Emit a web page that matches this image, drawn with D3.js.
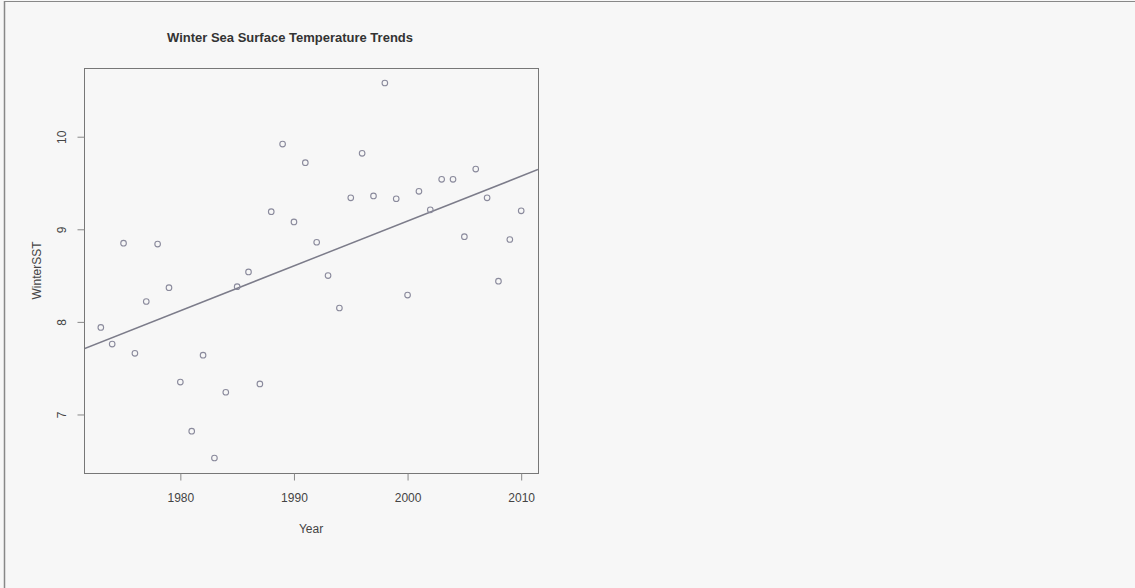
<!DOCTYPE html>
<html>
<head>
<meta charset="utf-8">
<script src="https://cdn.jsdelivr.net/npm/d3@7"></script>
<style>
  body { margin: 0; background: #f7f7f7; }
  svg { display: block; font-family: "Liberation Sans", Arial, sans-serif; }
</style>
</head>
<body>
<div id="chart"></div>
<script>
// winter SST per year
var years = [1973, 1974, 1975, 1976, 1977, 1978, 1979, 1980, 1981, 1982,
             1983, 1984, 1985, 1986, 1987, 1988, 1989, 1990, 1991, 1992,
             1993, 1994, 1995, 1996, 1997, 1998, 1999, 2000, 2001, 2002,
             2003, 2004, 2005, 2006, 2007, 2008, 2009, 2010];
var winterSST = [7.94, 7.76, 8.85, 7.66, 8.22, 8.84, 8.37, 7.35, 6.82, 7.64,
                 6.53, 7.24, 8.38, 8.54, 7.33, 9.19, 9.92, 9.08, 9.72, 8.86,
                 8.50, 8.15, 9.34, 9.82, 9.36, 10.58, 9.33, 8.29, 9.41, 9.21,
                 9.54, 9.54, 8.92, 9.65, 9.34, 8.44, 8.89, 9.20];
var xTicks = [1980, 1990, 2000, 2010];
var yTicks = [7, 8, 9, 10];

var W = 1135, H = 588;
var box = {left: 84, right: 538, top: 68, bottom: 473};

// R style axis: data range padded by 4% each side
function pad(ext) {
  var d = (ext[1] - ext[0]) * 0.04;
  return [ext[0] - d, ext[1] + d];
}

var x = d3.scaleLinear().domain(pad(d3.extent(years))).range([box.left, box.right]);
var y = d3.scaleLinear().domain(pad(d3.extent(winterSST))).range([box.bottom, box.top]);

var data = years.map(function(yr, i) { return {year: yr, sst: winterSST[i]}; });

// least squares fit (abline(lm(...)))
var mx = d3.mean(years), my = d3.mean(winterSST);
var sxy = d3.sum(data, function(d) { return (d.year - mx) * (d.sst - my); });
var sxx = d3.sum(data, function(d) { return (d.year - mx) * (d.year - mx); });
var slope = sxy / sxx, icept = my - slope * mx;

var svg = d3.select("#chart").append("svg")
  .attr("width", W)
  .attr("height", H);

svg.append("rect").attr("width", W).attr("height", H).attr("fill", "#f7f7f7");

// outer frame (top + left only visible)
svg.append("line").attr("x1", 4).attr("x2", W).attr("y1", 1.5).attr("y2", 1.5)
  .attr("stroke", "#888").attr("stroke-width", 1);
svg.append("line").attr("x1", 4.5).attr("x2", 4.5).attr("y1", 1).attr("y2", H)
  .attr("stroke", "#888").attr("stroke-width", 1.5);

svg.append("clipPath").attr("id", "clip")
  .append("rect")
  .attr("x", box.left).attr("y", box.top)
  .attr("width", box.right - box.left).attr("height", box.bottom - box.top);

// regression line
var d0 = x.domain()[0], d1 = x.domain()[1];
svg.append("line")
  .attr("clip-path", "url(#clip)")
  .attr("x1", x(d0)).attr("y1", y(icept + slope * d0))
  .attr("x2", x(d1)).attr("y2", y(icept + slope * d1))
  .attr("stroke", "#7c7c8a")
  .attr("stroke-width", 1.5);

// points
svg.selectAll(".pt")
  .data(data)
  .enter().append("circle")
  .attr("class", "pt")
  .attr("cx", function(d) { return x(d.year); })
  .attr("cy", function(d) { return y(d.sst); })
  .attr("r", 2.8)
  .attr("fill", "none")
  .attr("stroke", "#8a8a9c")
  .attr("stroke-width", 1.1);

// plot box
svg.append("rect")
  .attr("x", box.left + 0.5).attr("y", box.top + 0.5)
  .attr("width", box.right - box.left).attr("height", box.bottom - box.top)
  .attr("fill", "none").attr("stroke", "#777").attr("stroke-width", 1);

// x axis
var xAxis = svg.append("g")
  .attr("transform", "translate(0," + (box.bottom + 0.5) + ")")
  .call(d3.axisBottom(x).tickValues(xTicks).tickSize(7).tickPadding(13).tickFormat(d3.format("d")));
xAxis.select(".domain").remove();
xAxis.selectAll(".tick line").attr("stroke", "#888");
xAxis.selectAll("text").attr("font-size", 12).attr("fill", "#444")
  .attr("font-family", "Liberation Sans, Arial, sans-serif");

// y axis
var yAxis = svg.append("g")
  .attr("transform", "translate(" + (box.left + 0.5) + ",0)")
  .call(d3.axisLeft(y).tickValues(yTicks).tickSize(7).tickFormat(d3.format("d")));
yAxis.select(".domain").remove();
yAxis.selectAll(".tick line").attr("stroke", "#888");
yAxis.selectAll("text")
  .attr("font-size", 12).attr("fill", "#444")
  .attr("font-family", "Liberation Sans, Arial, sans-serif")
  .attr("text-anchor", "middle")
  .attr("x", 0).attr("dy", null)
  .attr("transform", "translate(-22,0) rotate(-90)")
  .attr("dominant-baseline", "middle");

// title + axis labels
svg.append("text")
  .attr("x", 290).attr("y", 42)
  .attr("text-anchor", "middle")
  .attr("font-size", 13).attr("font-weight", "bold").attr("fill", "#333")
  .text("Winter Sea Surface Temperature Trends");

svg.append("text")
  .attr("x", 311).attr("y", 533)
  .attr("text-anchor", "middle")
  .attr("font-size", 12).attr("fill", "#444")
  .text("Year");

svg.append("text")
  .attr("transform", "translate(38," + ((box.top + box.bottom) / 2) + ") rotate(-90)")
  .attr("text-anchor", "middle")
  .attr("dominant-baseline", "middle")
  .attr("font-size", 12).attr("fill", "#444")
  .text("WinterSST");
</script>
</body>
</html>
